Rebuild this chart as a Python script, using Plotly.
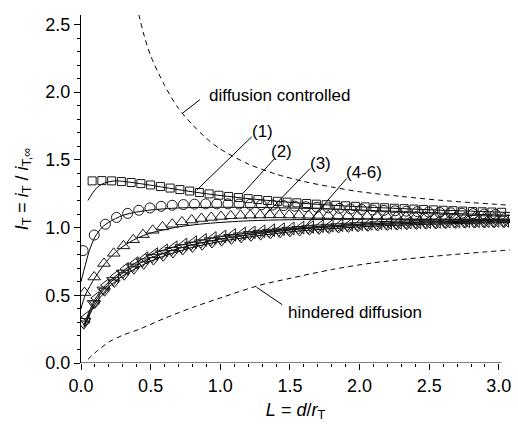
import plotly.graph_objects as go

# ---------------- data ----------------
# series (1) squares
L1 = [0.08, 0.15, 0.22, 0.29, 0.36, 0.43, 0.50, 0.57, 0.64, 0.71, 0.78, 0.85, 0.92, 0.99, 1.06,
      1.13, 1.20, 1.27, 1.34, 1.41, 1.48, 1.55, 1.62, 1.69, 1.76, 1.83, 1.90, 1.97, 2.04, 2.11,
      2.18, 2.25, 2.32, 2.39, 2.46, 2.53, 2.60, 2.67, 2.74, 2.81, 2.88, 2.95, 3.02]
I1 = [1.345, 1.347, 1.345, 1.340, 1.333, 1.325, 1.315, 1.303, 1.292, 1.281, 1.270, 1.259, 1.249,
      1.239, 1.230, 1.222, 1.214, 1.207, 1.200, 1.194, 1.188, 1.183, 1.178, 1.173, 1.169, 1.165,
      1.161, 1.157, 1.153, 1.150, 1.147, 1.143, 1.140, 1.137, 1.134, 1.131, 1.128, 1.125, 1.122,
      1.119, 1.117, 1.115, 1.113]
# series (2) circles
L2 = [0.015, 0.095, 0.175, 0.255, 0.335, 0.415, 0.495, 0.575, 0.655, 0.735, 0.815, 0.895, 0.975,
      1.055, 1.135, 1.215, 1.295, 1.375, 1.455, 1.535, 1.615, 1.695, 1.775, 1.855, 1.935, 2.015,
      2.095, 2.175, 2.255, 2.335, 2.415, 2.495, 2.575, 2.655, 2.735, 2.815, 2.895, 2.975]
I2 = [0.830, 0.945, 1.025, 1.075, 1.105, 1.128, 1.145, 1.157, 1.165, 1.170, 1.173, 1.175, 1.175,
      1.175, 1.174, 1.172, 1.169, 1.166, 1.162, 1.158, 1.154, 1.150, 1.146, 1.142, 1.138, 1.134,
      1.130, 1.127, 1.124, 1.121, 1.118, 1.115, 1.112, 1.109, 1.106, 1.103, 1.100, 1.097]
# series (3) up triangles
L3 = [0.025, 0.095, 0.165, 0.235, 0.305, 0.375, 0.445, 0.515, 0.585, 0.655, 0.725, 0.795, 0.865,
      0.935, 1.005, 1.075, 1.145, 1.215, 1.285, 1.355, 1.425, 1.495, 1.565, 1.635, 1.705, 1.775,
      1.845, 1.915, 1.985, 2.055, 2.125, 2.195, 2.265, 2.335, 2.405, 2.475, 2.545, 2.615, 2.685,
      2.755, 2.825, 2.895, 2.965, 3.035]
I3 = [0.520, 0.635, 0.735, 0.810, 0.865, 0.910, 0.948, 0.980, 1.005, 1.025, 1.042, 1.056, 1.067,
      1.075, 1.082, 1.087, 1.090, 1.092, 1.093, 1.094, 1.094, 1.093, 1.092, 1.091, 1.090, 1.089,
      1.088, 1.087, 1.086, 1.085, 1.084, 1.083, 1.082, 1.081, 1.080, 1.079, 1.078, 1.077, 1.076,
      1.075, 1.074, 1.073, 1.072, 1.071]
# series (4)-(6)
L4 = [0.02, 0.09, 0.16, 0.23, 0.30, 0.37, 0.44, 0.51, 0.58, 0.65, 0.72, 0.79, 0.86, 0.93, 1.00,
      1.07, 1.14, 1.21, 1.28, 1.35, 1.42, 1.49, 1.56, 1.63, 1.70, 1.77, 1.84, 1.91, 1.98, 2.05,
      2.12, 2.19, 2.26, 2.33, 2.40, 2.47, 2.54, 2.61, 2.68, 2.75, 2.82, 2.89, 2.96, 3.03]
I4 = [0.290, 0.440, 0.540, 0.610, 0.665, 0.710, 0.748, 0.780, 0.808, 0.832, 0.853, 0.872, 0.889,
      0.904, 0.917, 0.929, 0.940, 0.950, 0.959, 0.967, 0.975, 0.982, 0.988, 0.994, 0.999, 1.004,
      1.008, 1.012, 1.016, 1.019, 1.022, 1.025, 1.027, 1.029, 1.031, 1.033, 1.035, 1.036, 1.037,
      1.038, 1.039, 1.040, 1.041, 1.042]
L5 = [0.04, 0.11, 0.18, 0.25, 0.32, 0.39, 0.46, 0.53, 0.60, 0.67, 0.74, 0.81, 0.88, 0.95, 1.02,
      1.09, 1.16, 1.23, 1.30, 1.37, 1.44, 1.51, 1.58, 1.65, 1.72, 1.79, 1.86, 1.93, 2.00, 2.07,
      2.14, 2.21, 2.28, 2.35, 2.42, 2.49, 2.56, 2.63, 2.70, 2.77, 2.84, 2.91, 2.98, 3.05]
I5 = [0.340, 0.480, 0.575, 0.640, 0.695, 0.738, 0.774, 0.805, 0.832, 0.855, 0.875, 0.893, 0.909,
      0.923, 0.935, 0.946, 0.956, 0.965, 0.973, 0.981, 0.988, 0.994, 1.000, 1.005, 1.010, 1.014,
      1.018, 1.022, 1.025, 1.028, 1.031, 1.033, 1.035, 1.037, 1.039, 1.041, 1.042, 1.044, 1.045,
      1.046, 1.047, 1.048, 1.049, 1.050]
L6 = [0.03, 0.10, 0.17, 0.24, 0.31, 0.38, 0.45, 0.52, 0.59, 0.66, 0.73, 0.80, 0.87, 0.94, 1.01,
      1.08, 1.15, 1.22, 1.29, 1.36, 1.43, 1.50, 1.57, 1.64, 1.71, 1.78, 1.85, 1.92, 1.99, 2.06,
      2.13, 2.20, 2.27, 2.34, 2.41, 2.48, 2.55, 2.62, 2.69, 2.76, 2.83, 2.90, 2.97, 3.04]
I6 = [0.310, 0.440, 0.530, 0.595, 0.648, 0.692, 0.728, 0.760, 0.788, 0.812, 0.834, 0.853, 0.870,
      0.886, 0.900, 0.913, 0.924, 0.935, 0.944, 0.953, 0.961, 0.968, 0.975, 0.981, 0.987, 0.992,
      0.997, 1.001, 1.005, 1.009, 1.012, 1.015, 1.018, 1.021, 1.023, 1.025, 1.027, 1.029, 1.031,
      1.033, 1.034, 1.035, 1.036, 1.037]

# fitted theory curves (solid)
FL1 = [0.05, 0.08, 0.12, 0.17, 0.25, 0.35, 0.50, 0.70, 0.90, 1.10, 1.40, 1.70, 2.00, 2.50, 3.08]
FI1 = [1.20, 1.25, 1.30, 1.33, 1.345, 1.335, 1.313, 1.280, 1.250, 1.225, 1.195, 1.172, 1.154, 1.132, 1.112]
FL2 = [0.00, 0.03, 0.06, 0.10, 0.15, 0.20, 0.30, 0.40, 0.50, 0.70, 1.00, 1.50, 2.00, 2.50, 3.08]
FI2 = [0.60, 0.72, 0.83, 0.93, 1.00, 1.04, 1.09, 1.115, 1.13, 1.145, 1.15, 1.145, 1.13, 1.11, 1.09]
FL3 = [0.00, 0.03, 0.10, 0.20, 0.30, 0.40, 0.50, 0.70, 0.90, 1.20, 1.50, 2.00, 2.50, 3.08]
FI3 = [0.40, 0.50, 0.63, 0.77, 0.86, 0.92, 0.96, 1.005, 1.03, 1.05, 1.058, 1.062, 1.063, 1.062]
FL4 = [0.02, 0.10, 0.20, 0.30, 0.50, 0.75, 1.00, 1.50, 2.00, 2.50, 3.08]
FI4 = [0.27, 0.45, 0.585, 0.665, 0.775, 0.86, 0.915, 0.982, 1.016, 1.034, 1.043]
FI5 = [0.28, 0.47, 0.60, 0.68, 0.80, 0.88, 0.932, 0.993, 1.025, 1.041, 1.050]
FI6 = [0.26, 0.43, 0.56, 0.643, 0.752, 0.84, 0.898, 0.968, 1.005, 1.025, 1.037]

# limiting curves (dashed)
DCL = [0.40, 0.45, 0.50, 0.60, 0.70, 0.80, 0.90, 1.00, 1.20, 1.40, 1.60, 1.80, 2.00, 2.30, 2.60, 3.08]
DCI = [2.64, 2.43, 2.27, 2.05, 1.88, 1.76, 1.66, 1.58, 1.47, 1.395, 1.34, 1.30, 1.265, 1.23, 1.20, 1.165]
HDL = [0.05, 0.10, 0.20, 0.30, 0.42, 0.60, 0.80, 1.00, 1.285, 1.50, 1.80, 2.10, 2.50, 3.08]
HDI = [0.027, 0.075, 0.155, 0.205, 0.25, 0.33, 0.41, 0.48, 0.575, 0.625, 0.69, 0.74, 0.785, 0.835]

# labels: (text, text x, text y, leader start x, y, leader end x, y, anchor)
LABELS = [
    ("diffusion controlled", 0.902, 1.976, 0.854, 1.945, 0.723, 1.84, "left"),
    ("hindered diffusion", 1.47, 0.37, 1.445, 0.43, 1.26, 0.56, "left"),
    ("(1)", 1.30, 1.706, 1.225, 1.67, 0.83, 1.276, "center"),
    ("(2)", 1.44, 1.56, 1.39, 1.51, 1.16, 1.25, "center"),
    ("(3)", 1.716, 1.473, 1.644, 1.436, 1.32, 1.09, "center"),
    ("(4-6)", 2.03, 1.41, 1.907, 1.362, 1.596, 0.993, "center"),
]

X_RANGE = [0, 3.08]
Y_RANGE = [0, 2.57]
X_AXIS_END = 3.02

FONT = "Liberation Sans, Arial, sans-serif"
INK = "#1a1a1a"

fig = go.Figure()

def line(x, y, dash=None):
    fig.add_trace(go.Scatter(x=x, y=y, mode="lines",
                             line=dict(color="black", width=1, dash=dash, shape="spline", smoothing=0.8),
                             showlegend=False, hoverinfo="skip"))

def marks(x, y, sym, size):
    fig.add_trace(go.Scatter(x=x, y=y, mode="markers",
                             marker=dict(symbol=sym, size=size, color=INK, line=dict(color=INK, width=1)),
                             showlegend=False))

line(DCL, DCI, dash="5px,4px")
line(HDL, HDI, dash="5px,4px")
line(FL1, FI1)
line(FL2, FI2)
line(FL3, FI3)
line(FL4, FI4)
line(FL4, FI5)
line(FL4, FI6)

marks(L1, I1, "square-open", 8)
marks(L2, I2, "circle-open", 10)
marks(L3, I3, "triangle-up-open", 11)
marks(L4, I4, "triangle-down-open", 11)
marks(L5, I5, "triangle-left-open", 11)
marks(L6, I6, "triangle-down-open", 10)

for txt, tx, ty, sx, sy, ex, ey, anchor in LABELS:
    fig.add_shape(type="line", x0=sx, y0=sy, x1=ex, y1=ey, line=dict(color="black", width=1))
    fig.add_annotation(x=tx, y=ty, text=txt, showarrow=False, xanchor=anchor, yanchor="middle",
                       font=dict(family=FONT, size=17, color="black"))

# bottom axis line (stops at the last major tick like the original)
fig.add_shape(type="line", xref="x", yref="y", x0=X_RANGE[0], x1=X_AXIS_END, y0=Y_RANGE[0], y1=Y_RANGE[0],
              line=dict(color="black", width=1), layer="above")

axis_common = dict(ticks="outside", ticklen=6, tickwidth=1,
                   tickcolor="black", showgrid=False, zeroline=False, dtick=0.5, tick0=0, tickformat=".1f",
                   tickfont=dict(family=FONT, size=18, color="black"),
                   minor=dict(ticks="outside", ticklen=3, tickwidth=1, tickcolor="black", dtick=0.1, showgrid=False))

fig.update_xaxes(range=X_RANGE, showline=False, **axis_common,
                 title=dict(text="<i>L</i> = <i>d</i>/<i>r</i><sub>T</sub>",
                            font=dict(family=FONT, size=18, color="black"), standoff=8))
fig.update_yaxes(range=Y_RANGE, showline=True, linecolor="black", linewidth=1, **axis_common,
                 title=dict(text="<i>I</i><sub>T</sub> = <i>i</i><sub>T</sub> / <i>i</i><sub>T,∞</sub>",
                            font=dict(family=FONT, size=18, color="black"), standoff=12))

fig.update_layout(width=518, height=428, margin=dict(l=81, r=8, t=15, b=65),
                  plot_bgcolor="white", paper_bgcolor="white", showlegend=False)

fig.write_html("out.html")
